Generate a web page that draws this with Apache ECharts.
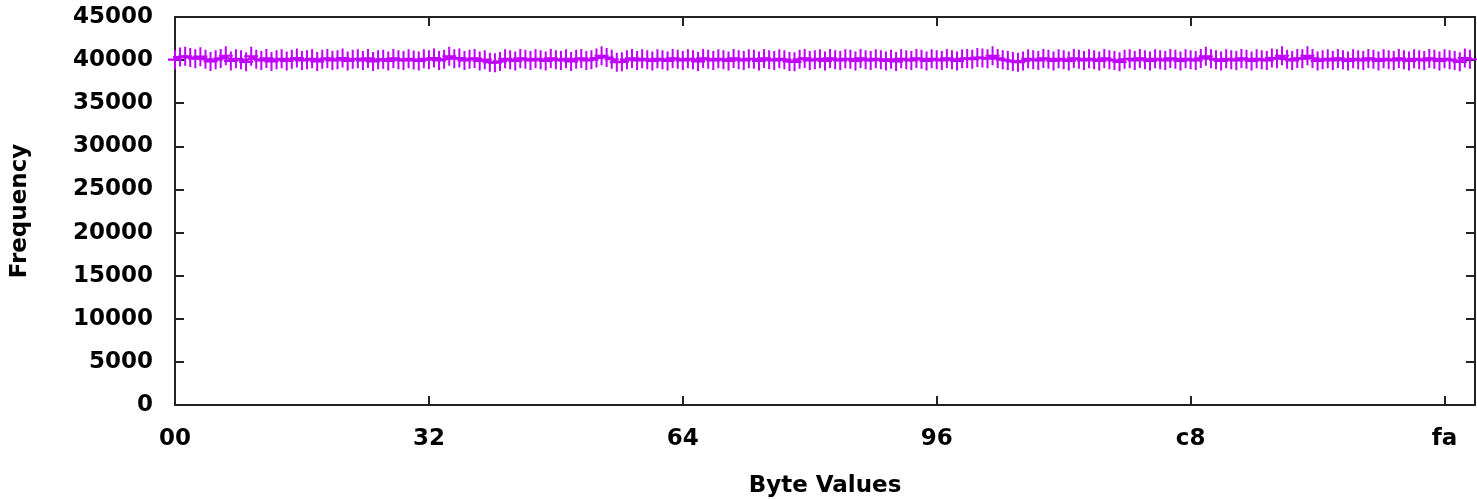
<!DOCTYPE html>
<html>
<head>
<meta charset="utf-8">
<script src="https://cdn.jsdelivr.net/npm/echarts@6/dist/echarts.min.js"></script>
<style>html,body{margin:0;padding:0;background:#fff}#c{width:1477px;height:499px}</style>
</head>
<body>
<div id="c"></div>
<script>
// Frequency of each byte value 0..255
const frequencies = [
  40050, 40350, 40450, 40300, 40150, 40400, 40100, 39850, 40050, 40200, 40500, 39900, 40150, 40050, 39800, 40450,
  40100, 39950, 40200, 39850, 40050, 40150, 39900, 40100, 40250, 39950, 40050, 40150, 39850, 40100, 40200, 39950,
  40050, 40250, 39900, 40100, 40150, 39950, 40200, 39850, 40050, 40100, 39900, 40200, 40050, 39950, 40150, 40000,
  39900, 40150, 40050, 40250, 39950, 40100, 40450, 40150, 40250, 39950, 40100, 40200, 39900, 40050, 39750, 39700,
  39850, 40150, 40050, 39900, 40200, 40100, 39950, 40150, 40050, 39900, 40200, 40050, 39950, 40150, 39850, 40100,
  40200, 39950, 40050, 40250, 40500, 40300, 40100, 39750, 39800, 40050, 40200, 39950, 40150, 40050, 39900, 40150,
  40050, 39900, 40200, 40100, 39950, 40150, 40050, 39850, 40200, 40100, 39950, 40150, 40050, 39900, 40200, 40050,
  39950, 40150, 40100, 39900, 40200, 40050, 39950, 40150, 40050, 39850, 39800, 40100, 40200, 39950, 40050, 40150,
  39900, 40200, 40050, 39950, 40150, 40100, 39900, 40200, 40050, 39950, 40150, 40050, 39900, 40100, 39850, 40150,
  40050, 39950, 40200, 40100, 39900, 40150, 40050, 39950, 40200, 40050, 39900, 40150, 40200, 40100, 40300, 40250,
  40150, 40500, 40200, 40050, 39950, 39850, 39750, 39900, 40150, 40050, 39950, 40200, 40100, 39900, 40150, 40050,
  39900, 40200, 40100, 39950, 40150, 40050, 39900, 40200, 40050, 39950, 39800, 40100, 40150, 39950, 40200, 40050,
  39900, 40150, 40050, 39950, 40200, 40100, 39900, 40150, 40050, 39950, 40200, 40450, 40150, 40050, 39900, 40150,
  40050, 39950, 40200, 40100, 39900, 40150, 40050, 39950, 40250, 40150, 40500, 40100, 39950, 40200, 40150, 40500,
  40200, 39900, 40050, 40150, 39950, 40200, 40050, 39900, 40150, 40050, 39950, 40200, 40100, 39900, 40150, 40050,
  39950, 40200, 40050, 39900, 40150, 40050, 39950, 40200, 40100, 39900, 40150, 40050, 39950, 39800, 40250, 40100
];
const byteValues = frequencies.map((_, i) => i);
const xTicks = [0, 50, 100, 150, 200, 250];           // shown as hex: 00 32 64 96 c8 fa
const yTicks = [0, 5000, 10000, 15000, 20000, 25000, 30000, 35000, 40000, 45000];
const xTitle = 'Byte Values';
const yTitle = 'Frequency';

const FONT = 'DejaVu Sans';
const labelStyle = {fontFamily: FONT, fontWeight: 'bold', fontSize: 23, color: '#000'};
const axisLineStyle = {show: true, onZero: false, lineStyle: {color: '#222', width: 2}};
const tickStyle = {show: true, inside: true, length: 9, lineStyle: {color: '#222', width: 2}};

const chart = echarts.init(document.getElementById('c'), null, {renderer: 'canvas'});
chart.setOption({
  animation: false,
  backgroundColor: '#fff',
  grid: {left: 175, right: 2, top: 17, bottom: 94, containLabel: false, outerBoundsMode: 'none'},
  xAxis: [{
    type: 'value', min: 0, max: 256, interval: 50, position: 'bottom',
    name: xTitle, nameLocation: 'middle', nameGap: 70,
    nameTextStyle: labelStyle,
    axisLine: axisLineStyle, axisTick: tickStyle, splitLine: {show: false},
    axisLabel: Object.assign({}, labelStyle, {
      margin: 23,
      formatter: v => xTicks.includes(v) ? v.toString(16).padStart(2, '0') : ''
    })
  }, {
    type: 'value', min: 0, max: 256, interval: 50, position: 'top',
    axisLine: axisLineStyle, axisTick: tickStyle, axisLabel: {show: false}, splitLine: {show: false}
  }],
  yAxis: [{
    type: 'value', min: yTicks[0], max: yTicks[yTicks.length - 1], interval: 5000, position: 'left',
    name: yTitle, nameLocation: 'middle', nameGap: 143, nameRotate: 90,
    nameTextStyle: labelStyle,
    axisLine: axisLineStyle, axisTick: tickStyle,
    splitLine: {show: false},
    axisLabel: Object.assign({}, labelStyle, {margin: 22, padding: [2, 0, 0, 0], formatter: v => String(v)})
  }, {
    type: 'value', min: yTicks[0], max: yTicks[yTicks.length - 1], interval: 5000, position: 'right',
    axisLine: axisLineStyle, axisTick: tickStyle,
    axisLabel: {show: false}, splitLine: {show: false}
  }],
  series: [{
    type: 'line',
    data: byteValues.map((b, i) => [b, frequencies[i]]),
    xAxisIndex: 0, yAxisIndex: 0,
    clip: false,
    lineStyle: {color: '#c000ff', width: 2},
    symbol: 'path://M6,0H8V18H6ZM0,8H14V10H0Z',
    symbolSize: [14, 19],
    showAllSymbol: true,
    itemStyle: {color: '#c000ff'}
  }]
});
</script>
</body>
</html>
